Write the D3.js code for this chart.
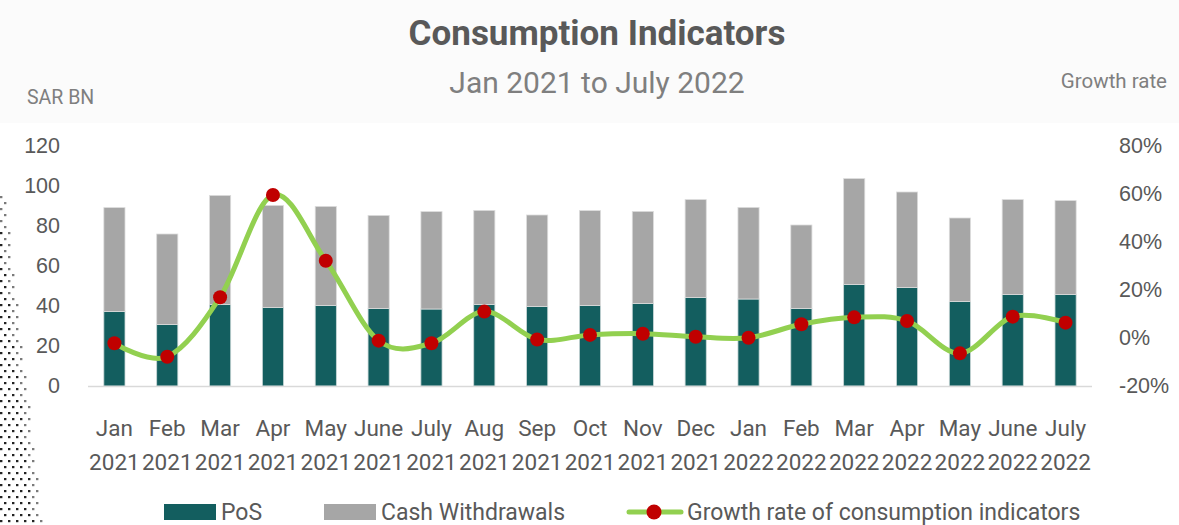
<!DOCTYPE html>
<html lang="en">
  <head>
    <meta charset="utf-8">
    <title>Consumption Indicators</title>
    <script src="https://d3js.org/d3.v7.min.js"></script>
    <style>
      body {
        margin: 0;
        background-color: white;
      }
      svg {
        display: block;
        font-family: Roboto, "DejaVu Sans", sans-serif;
      }
    </style>
  </head>
  <body>
    <script>
      var w = 1179;
      var h = 525;

      // data
      var months = ["Jan", "Feb", "Mar", "Apr", "May", "June", "July", "Aug", "Sep", "Oct", "Nov", "Dec",
                    "Jan", "Feb", "Mar", "Apr", "May", "June", "July"];
      var years = ["2021", "2021", "2021", "2021", "2021", "2021", "2021", "2021", "2021", "2021", "2021", "2021",
                   "2022", "2022", "2022", "2022", "2022", "2022", "2022"];
      var pos = [37.2, 30.7, 40.7, 39.2, 40.2, 38.7, 38.5, 40.7, 39.7, 40.2, 41.2, 44.2,
                 43.5, 38.7, 50.8, 49.2, 42.2, 45.8, 45.7];
      var cash = [52.0, 45.3, 54.6, 51.1, 49.6, 46.6, 48.7, 47.1, 45.8, 47.5, 46.1, 49.0,
                  45.8, 41.8, 52.9, 47.8, 41.8, 47.4, 47.0];
      var growth = [-2.2, -7.8, 17.0, 59.6, 32.2, -1.1, -2.2, 11.0, -0.6, 1.3, 1.8, 0.5,
                    0.1, 5.7, 8.6, 7.1, -6.4, 8.9, 6.4];
      var leftTicks = [0, 20, 40, 60, 80, 100, 120];
      var rightTicks = [-20, 0, 20, 40, 60, 80];

      var svg = d3.select("body").append("svg")
        .attr("width", w)
        .attr("height", h);

      // faint header band
      svg.append("rect")
        .attr("x", 0).attr("y", 0)
        .attr("width", w).attr("height", 123)
        .attr("fill", "#fbfbfb");

      // halftone decoration on the left edge
      var deco = svg.append("g").attr("fill", "#222");
      for (var yy = 196; yy < h; yy += 6) {
        var edge = 4 + (yy - 196) * 0.115;
        var off = (Math.round((yy - 196) / 6) % 2) * 4;
        for (var xx = off; xx < edge; xx += 8) {
          deco.append("rect")
            .attr("x", xx).attr("y", yy)
            .attr("width", 2.4).attr("height", 2.2)
            .attr("opacity", xx > edge - 8 ? 0.6 : 1);
        }
      }

      var x = d3.scaleBand()
        .domain(d3.range(months.length))
        .range([88, 1092])
        .paddingInner(0.6)
        .paddingOuter(0.3);

      var yL = d3.scaleLinear().domain([0, 120]).range([386, 146]);
      var yR = d3.scaleLinear().domain([-20, 80]).range([386, 146]);

      // titles
      svg.append("text")
        .attr("x", 597).attr("y", 45)
        .attr("text-anchor", "middle")
        .attr("font-size", 35).attr("font-weight", "bold")
        .attr("fill", "#595959")
        .text("Consumption Indicators");
      svg.append("text")
        .attr("x", 597).attr("y", 93)
        .attr("text-anchor", "middle")
        .attr("font-size", 30)
        .attr("fill", "#7f7f7f")
        .text("Jan 2021 to July 2022");
      svg.append("text")
        .attr("x", 27).attr("y", 104)
        .attr("font-size", 19.5)
        .attr("fill", "#7f7f7f")
        .text("SAR BN");
      svg.append("text")
        .attr("x", 1167).attr("y", 88)
        .attr("text-anchor", "end")
        .attr("font-size", 20.5)
        .attr("fill", "#7f7f7f")
        .text("Growth rate");

      // left axis labels
      var axL = svg.append("g")
        .attr("transform", "translate(60,0)")
        .call(d3.axisLeft(yL).tickValues(leftTicks).tickSize(0).tickPadding(0));
      axL.select(".domain").remove();
      axL.selectAll("text").attr("font-size", 21.5).attr("fill", "#595959").attr("font-family", null);

      // right axis labels
      var axR = svg.append("g")
        .attr("transform", "translate(1119,0)")
        .call(d3.axisRight(yR).tickValues(rightTicks).tickSize(0).tickPadding(0)
          .tickFormat(function(d) { return d + "%"; }));
      axR.select(".domain").remove();
      axR.selectAll("text").attr("font-size", 21.5).attr("fill", "#595959").attr("font-family", null);

      // stacked bars
      var bars = svg.append("g");
      bars.selectAll("rect.pos")
        .data(pos)
        .enter().append("rect")
        .attr("class", "pos")
        .attr("x", function(d, i) { return x(i); })
        .attr("y", function(d) { return yL(d); })
        .attr("width", x.bandwidth())
        .attr("height", function(d) { return yL(0) - yL(d); })
        .attr("fill", "#135e5f")
        .attr("stroke", "#c8d6d6")
        .attr("stroke-width", 0.8);
      bars.selectAll("rect.cash")
        .data(cash)
        .enter().append("rect")
        .attr("class", "cash")
        .attr("x", function(d, i) { return x(i); })
        .attr("y", function(d, i) { return yL(pos[i] + d); })
        .attr("width", x.bandwidth())
        .attr("height", function(d) { return yL(0) - yL(d); })
        .attr("fill", "#a6a6a6")
        .attr("stroke", "#dcdcdc")
        .attr("stroke-width", 0.8);

      // baseline
      svg.append("line")
        .attr("x1", 88).attr("x2", 1092)
        .attr("y1", yL(0) + 0.5).attr("y2", yL(0) + 0.5)
        .attr("stroke", "#d9d9d9")
        .attr("stroke-width", 1.5);

      // x labels
      var xl = svg.append("g")
        .attr("font-size", 22.5)
        .attr("fill", "#595959")
        .attr("text-anchor", "middle");
      xl.selectAll("text.m")
        .data(months)
        .enter().append("text")
        .attr("class", "m")
        .attr("x", function(d, i) { return x(i) + x.bandwidth() / 2; })
        .attr("y", 436)
        .text(function(d) { return d; });
      xl.selectAll("text.yr")
        .data(years)
        .enter().append("text")
        .attr("class", "yr")
        .attr("x", function(d, i) { return x(i) + x.bandwidth() / 2; })
        .attr("y", 470)
        .text(function(d) { return d; });

      // growth line
      var line = d3.line()
        .x(function(d, i) { return x(i) + x.bandwidth() / 2; })
        .y(function(d) { return yR(d); })
        .curve(d3.curveCatmullRom.alpha(0));
      svg.append("path")
        .datum(growth)
        .attr("d", line)
        .attr("fill", "none")
        .attr("stroke", "#92d050")
        .attr("stroke-width", 5)
        .attr("stroke-linecap", "round");
      svg.append("g").selectAll("circle")
        .data(growth)
        .enter().append("circle")
        .attr("cx", function(d, i) { return x(i) + x.bandwidth() / 2; })
        .attr("cy", function(d) { return yR(d); })
        .attr("r", 7)
        .attr("fill", "#c00000");

      // legend
      var lg = svg.append("g").attr("font-size", 23).attr("fill", "#595959");
      lg.append("rect").attr("x", 164).attr("y", 504).attr("width", 52).attr("height", 16).attr("fill", "#135e5f");
      lg.append("text").attr("x", 221).attr("y", 520).text("PoS");
      lg.append("rect").attr("x", 324).attr("y", 504).attr("width", 52).attr("height", 16).attr("fill", "#a6a6a6");
      lg.append("text").attr("x", 381).attr("y", 520).text("Cash Withdrawals");
      lg.append("line").attr("x1", 629).attr("x2", 681).attr("y1", 512).attr("y2", 512)
        .attr("stroke", "#92d050").attr("stroke-width", 5).attr("stroke-linecap", "round");
      lg.append("circle").attr("cx", 654).attr("cy", 512).attr("r", 7.5).attr("fill", "#c00000");
      lg.append("text").attr("x", 687).attr("y", 520).text("Growth rate of consumption indicators");
    </script>
  </body>
</html>
